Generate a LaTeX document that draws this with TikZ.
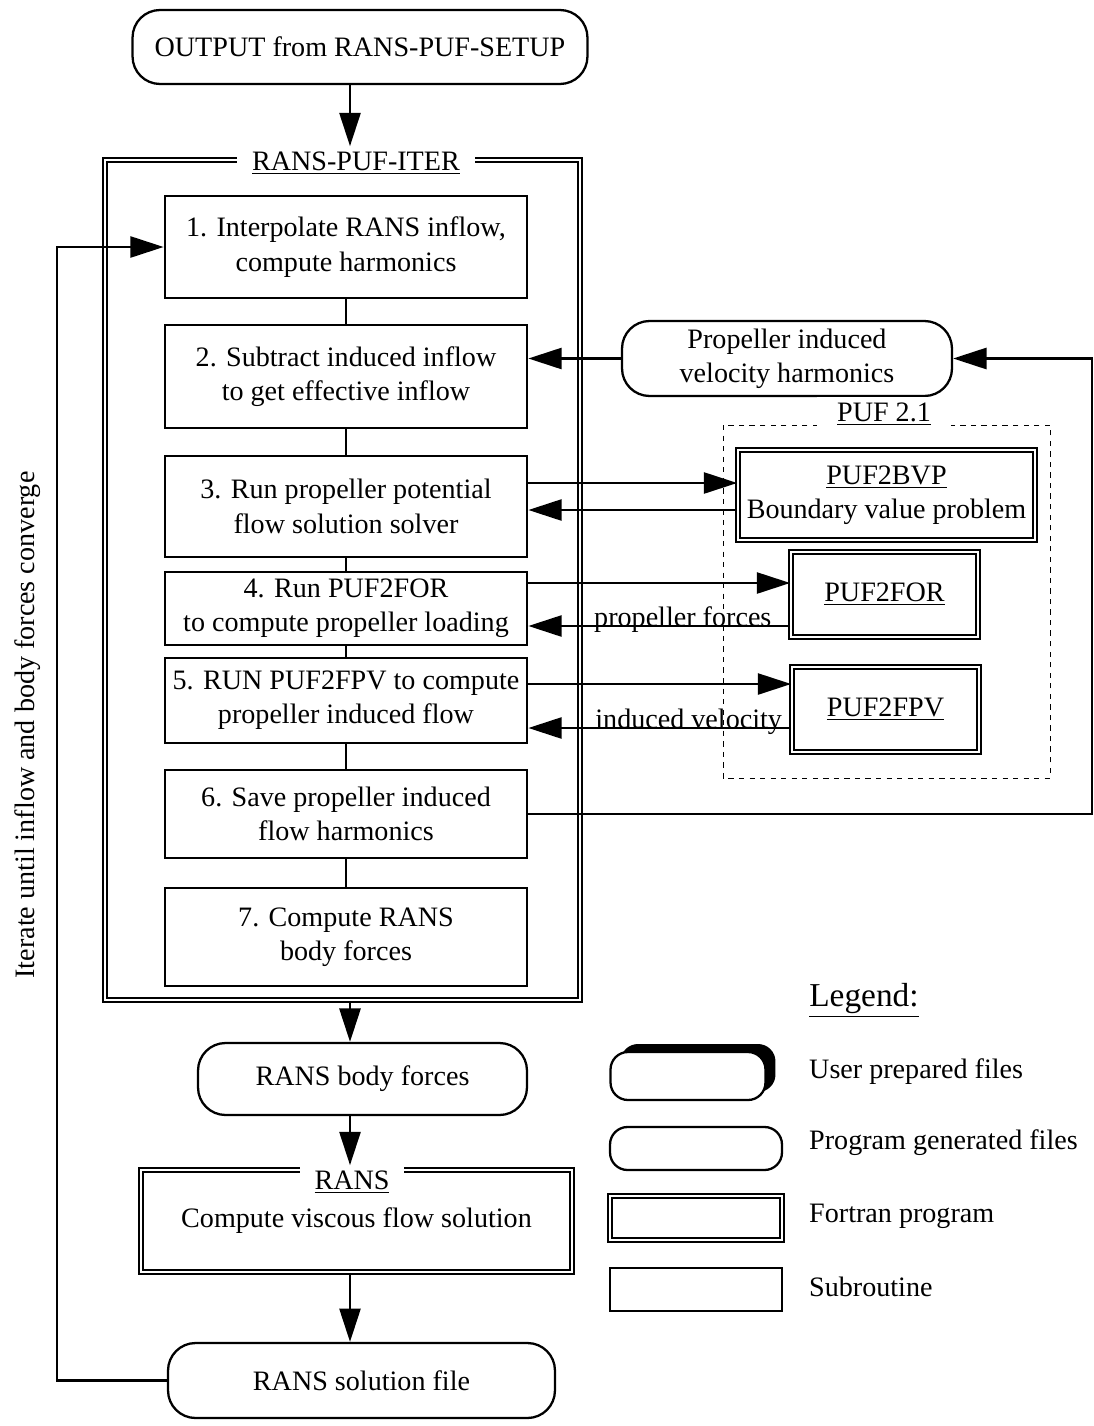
\documentclass[tikz,border=0pt]{standalone}
\usepackage{fontspec}
\setmainfont{Liberation Serif}
\usetikzlibrary{arrows.meta,shadows}

\tikzset{
  subbox/.style={draw, line width=1.3pt, align=center, minimum width=7.25cm, inner xsep=2pt},
  filebox/.style={draw, line width=1.3pt, rounded corners=0.55cm, align=center},
  progbox/.style={draw, double, double distance=1.5pt, line width=1pt, align=center, inner xsep=3pt},
  arr/.style={line width=1.4pt, -{Triangle[length=19pt,width=12pt]}},
  link/.style={line width=1.4pt},
  ttl/.style={fill=white, inner ysep=3pt, inner xsep=0.3cm},
  lbl/.style={inner sep=0pt, anchor=base},
}

\begin{document}
\begin{tikzpicture}[x=0.02cm, y=-0.02cm, font=\fontsize{16}{19.5}\selectfont]
\useasboundingbox (0,0) rectangle (1094,1426);

\coordinate (axis) at (350,0);
\coordinate (lft) at (57,0);
\coordinate (rgt) at (1092,0);

% input file
\node[filebox, minimum width=9.1cm, minimum height=1.48cm] (out) at (360,47) {OUTPUT from RANS-PUF-SETUP};

% RANS-PUF-ITER frame
\node[progbox, minimum width=9.5cm, minimum height=16.8cm] (iter) at (342.5,580) {};
\node[ttl] (iterT) at (356,163) {\underline{RANS-PUF-ITER}};

% subroutines
\node[subbox, minimum height=2.04cm] (b1) at (346,247) {1. Interpolate RANS inflow,\\compute harmonics};
\node[subbox, minimum height=2.06cm] (b2) at (346,376.5) {2. Subtract induced inflow\\to get effective inflow};
\node[subbox, minimum height=2.02cm] (b3) at (346,506.5) {3. Run propeller potential\\flow solution solver};
\node[subbox, minimum height=1.46cm] (b4) at (346,608.5) {4. Run PUF2FOR\\to compute propeller loading};
\node[subbox, minimum height=1.7cm] (b5) at (346,700.5) {5. RUN PUF2FPV to compute\\propeller induced flow};
\node[subbox, minimum height=1.76cm] (b6) at (346,814) {6. Save propeller induced\\flow harmonics};
\node[subbox, minimum height=1.96cm] (b7) at (346,937) {7. Compute RANS\\body forces};

\foreach \a/\b in {b1/b2,b2/b3,b3/b4,b4/b5,b5/b6,b6/b7}
  \draw[link] (\a) -- (\b);

% body forces and RANS solver
\node[filebox, minimum width=6.58cm, minimum height=1.44cm] (bforce) at (362.5,1079) {RANS body forces};
\node[progbox, minimum width=8.62cm, minimum height=2.04cm] (rans) at (356.5,1221) {Compute viscous flow solution};
\node[ttl] (ransT) at (352,1182) {\underline{RANS}};
\node[filebox, minimum width=7.74cm, minimum height=1.5cm] (sol) at (361.5,1380.5) {RANS solution file};

\draw[arr] (out.south -| axis) -- (iterT.north -| axis);
\draw[arr] (iter.south -| axis) -- (bforce.north -| axis);
\draw[arr] (bforce.south -| axis) -- (ransT.north -| axis);
\draw[arr] (rans.south -| axis) -- (sol.north -| axis);

% iteration loop
\draw[arr] (sol.west) -- (sol.west -| lft) |- (b1.west);
\node[rotate=90] (iterate) at (28,725) {Iterate until inflow and body forces converge};

% induced velocity harmonics
\node[filebox, minimum width=6.6cm, minimum height=1.5cm] (prop) at (787,358.5) {Propeller induced\\velocity harmonics};
\draw[arr] (prop.west) -- (prop.west -| b2.east);
\draw[arr] (b6.east) -- (b6.east -| rgt) |- (prop.east);

% PUF 2.1 package
\draw[dashed, line width=0.5pt] (723,425) rectangle (1050,778);
\node[ttl, inner xsep=0.4cm] (pufT) at (884,414) {\underline{PUF 2.1}};

\node[progbox, minimum width=5.94cm, minimum height=1.8cm] (bvp) at (886.5,495) {\underline{PUF2BVP}\\Boundary value problem};
\node[progbox, minimum width=3.74cm, minimum height=1.7cm] (for) at (884.5,594.5) {\underline{PUF2FOR}};
\node[progbox, minimum width=3.74cm, minimum height=1.7cm] (fpv) at (885.5,709.5) {\underline{PUF2FPV}};

\coordinate (bvpIn) at ([yshift=0.24cm]bvp.west);
\coordinate (bvpOut) at ([yshift=-0.3cm]bvp.west);
\coordinate (forIn) at ([yshift=0.23cm]for.west);
\coordinate (forOut) at ([yshift=-0.63cm]for.west);
\coordinate (fpvIn) at ([yshift=0.51cm]fpv.west);
\coordinate (fpvOut) at ([yshift=-0.37cm]fpv.west);

\draw[arr] (b3.east |- bvpIn) -- (bvpIn);
\draw[arr] (bvpOut) -- (b3.east |- bvpOut);
\draw[arr] (b4.east |- forIn) -- (forIn);
\draw[arr] (forOut) -- node[lbl, pos=.41] {propeller forces} (b4.east |- forOut);
\draw[arr] (b5.east |- fpvIn) -- (fpvIn);
\draw[arr] (fpvOut) -- node[lbl, pos=.39] {induced velocity} (b5.east |- fpvOut);

% legend
\node[font=\fontsize{19}{23}\selectfont] (legend) at (864,1000) {\underline{Legend:}};
\node[filebox, rounded corners=0.35cm, minimum width=3.1cm, minimum height=0.96cm, fill=white,
  drop shadow={shadow xshift=0.2cm, shadow yshift=0.16cm, fill=black, opacity=1}] (lgUser) at (688,1076) {};
\node[filebox, rounded corners=0.35cm, minimum width=3.44cm, minimum height=0.86cm] (lgGen) at (696,1148.5) {};
\node[progbox, minimum width=3.44cm, minimum height=0.88cm] (lgFort) at (696,1218) {};
\node[subbox, minimum width=3.44cm, minimum height=0.86cm] (lgSub) at (696,1289.5) {};

\node[anchor=west] (lgUserT) at (803,1072) {User prepared files};
\node[anchor=west] (lgGenT) at (803,1143) {Program generated files};
\node[anchor=west] (lgFortT) at (803,1216) {Fortran program};
\node[anchor=west] (lgSubT) at (803,1287) {Subroutine};

\end{tikzpicture}
\end{document}
